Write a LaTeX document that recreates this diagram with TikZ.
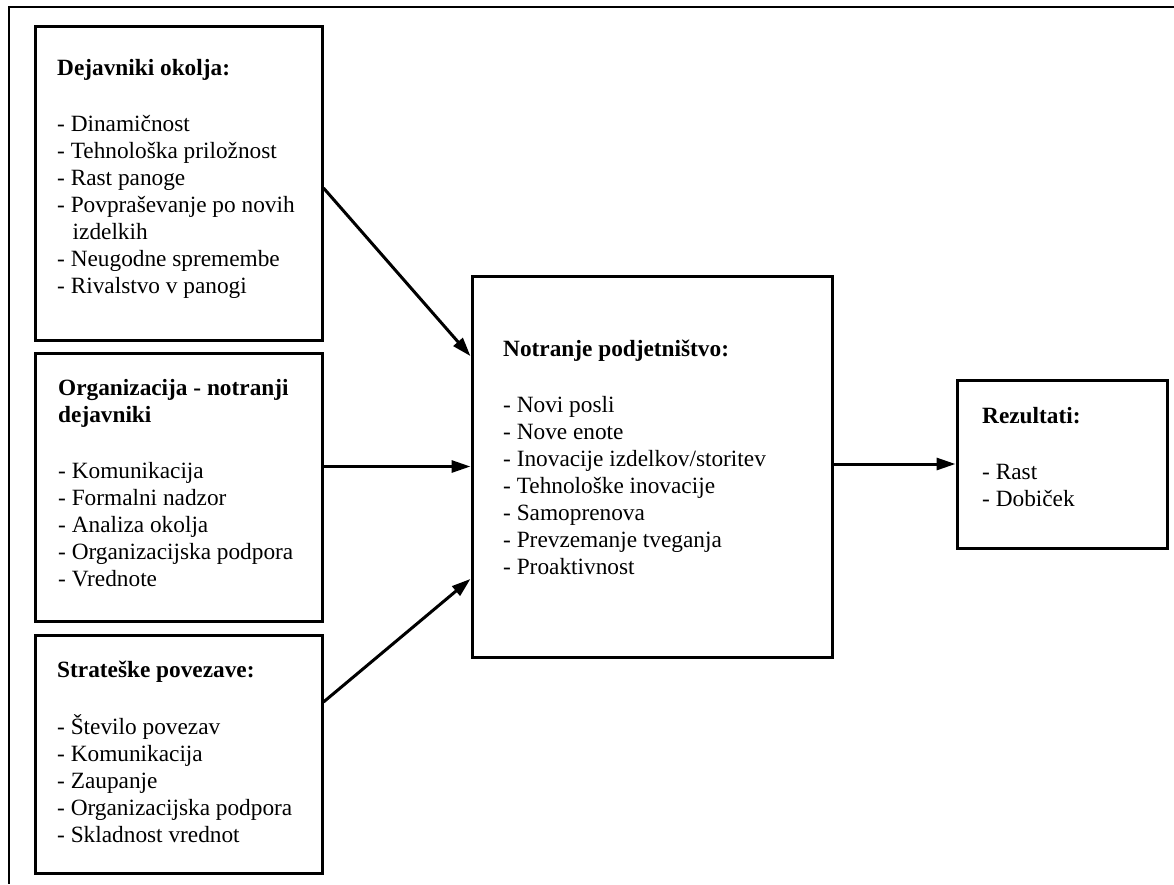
\documentclass[tikz,border=0pt]{standalone}
\usepackage{fontspec}
\setmainfont{Liberation Serif}
\usetikzlibrary{arrows.meta,calc}
\begin{document}
\begin{tikzpicture}[x=1pt,y=-1pt,
  box/.style={draw=black,line width=3pt,rectangle,inner sep=0pt},
  txt/.style={anchor=base west,inner sep=0pt,align=left,
    font=\fontsize{23.3}{27}\selectfont},
  arr/.style={line width=3pt,-{Triangle[length=19pt,width=12pt]}}]
\useasboundingbox (0,0) rectangle (1174,884);

% frame lines along the top and left edges
\draw[line width=2pt] (1174,7) -- (9,7) -- (9,884);

% boxes (centre, size)
\node[box,minimum width=287pt,minimum height=314pt] (env) at (178.5,183) {};
\node[box,minimum width=287pt,minimum height=268pt] (org) at (178.5,487) {};
\node[box,minimum width=287pt,minimum height=238pt] (str) at (178.5,754) {};
\node[box,minimum width=360pt,minimum height=381pt] (mid) at (652,466.5) {};
\node[box,minimum width=210pt,minimum height=168pt] (res) at (1062,464) {};

% box texts
\node[txt] (envt) at (57,75) {\begin{tabular}[t]{@{}l@{}}
  \textbf{Dejavniki okolja:}\\[29pt]
  - Dinamičnost\\
  - Tehnološka priložnost\\
  - Rast panoge\\
  - Povpraševanje po novih\\
  \hspace{15.5pt}izdelkih\\
  - Neugodne spremembe\\
  - Rivalstvo v panogi
\end{tabular}};

\node[txt] (orgt) at (58,395) {\begin{tabular}[t]{@{}l@{}}
  \textbf{Organizacija - notranji}\\
  \textbf{dejavniki}\\[29pt]
  - Komunikacija\\
  - Formalni nadzor\\
  - Analiza okolja\\
  - Organizacijska podpora\\
  - Vrednote
\end{tabular}};

\node[txt] (strt) at (57,677) {\begin{tabular}[t]{@{}l@{}}
  \textbf{Strateške povezave:}\\[29pt]
  - Število povezav\\
  - Komunikacija\\
  - Zaupanje\\
  - Organizacijska podpora\\
  - Skladnost vrednot
\end{tabular}};

\node[txt] (midt) at (503,356) {\begin{tabular}[t]{@{}l@{}}
  \textbf{Notranje podjetništvo:}\\[29pt]
  - Novi posli\\
  - Nove enote\\
  - Inovacije izdelkov/storitev\\
  - Tehnološke inovacije\\
  - Samoprenova\\
  - Prevzemanje tveganja\\
  - Proaktivnost
\end{tabular}};

\node[txt] (rest) at (982,423) {\begin{tabular}[t]{@{}l@{}}
  \textbf{Rezultati:}\\[29pt]
  - Rast\\
  - Dobiček
\end{tabular}};

% connectors
\draw[arr] ([yshift=-5pt]env.east) -- ($(mid.north west)!0.2126!(mid.south west)$);
\draw[arr] (org.east |- mid.west) -- (mid.west);
\draw[arr] ([yshift=52pt]str.east) -- ($(mid.north west)!0.7927!(mid.south west)$);
\draw[arr] (mid.east |- res.west) -- (res.west);
\end{tikzpicture}
\end{document}
